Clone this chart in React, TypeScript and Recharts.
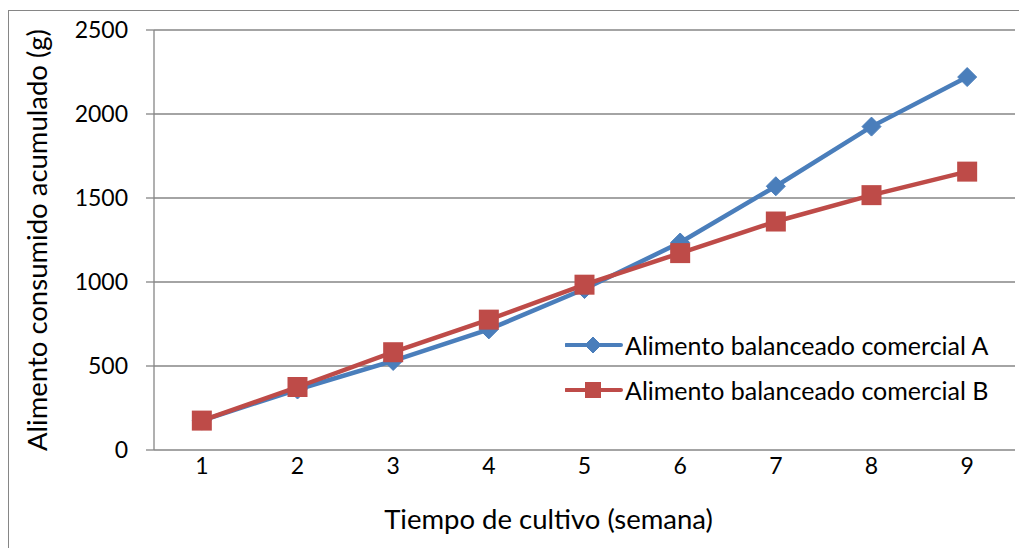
import React from 'react';
import { LineChart, Line, XAxis, YAxis, CartesianGrid, Legend } from 'recharts';

const semanas = [1, 2, 3, 4, 5, 6, 7, 8, 9];
const alimentoA = [175, 360, 530, 718, 958, 1235, 1570, 1925, 2220];
const alimentoB = [175, 375, 582, 776, 984, 1172, 1360, 1517, 1657];
const yTicks = [0, 500, 1000, 1500, 2000, 2500];
const nombreA = 'Alimento balanceado comercial A';
const nombreB = 'Alimento balanceado comercial B';

const AZUL = '#4A7EBB';
const ROJO = '#BE4B48';
const GRIS = '#868686';
const FONT = 'Lato, "Noto Sans", sans-serif';

const data = semanas.map((s, i) => ({ semana: s, a: alimentoA[i], b: alimentoB[i] }));
// tick lines sit between the categories, like in Excel
const bordes = [...semanas.map((s) => s - 0.5), semanas[semanas.length - 1] + 0.5];

const Rombo = ({ cx, cy, r = 9.5, color = AZUL }: any) => {
  if (cx == null || cy == null) return null;
  return (
    <path
      d={`M${cx},${cy - r} L${cx + r},${cy} L${cx},${cy + r} L${cx - r},${cy} Z`}
      fill={color}
      stroke={color}
      strokeWidth={1}
    />
  );
};

const Cuadro = ({ cx, cy, s = 20, color = ROJO }: any) => {
  if (cx == null || cy == null) return null;
  return <rect x={cx - s / 2} y={cy - s / 2} width={s} height={s} fill={color} />;
};

const LeyendaItem = ({ color, texto, cuadro }: { color: string; texto: string; cuadro: boolean }) => (
  <div style={{ display: 'flex', alignItems: 'center', height: 45 }}>
    <svg width={58} height={20} style={{ marginRight: 2 }}>
      <line x1={1} y1={10} x2={56} y2={10} stroke={color} strokeWidth={4} strokeLinecap="round" />
      {cuadro ? <Cuadro cx={28} cy={10} s={16} /> : <Rombo cx={28} cy={10} r={8} />}
    </svg>
    <span style={{ fontSize: 25, color: '#000', whiteSpace: 'nowrap' }}>{texto}</span>
  </div>
);

const renderLeyenda = (props: any) => {
  const { payload = [] } = props;
  return (
    <div>
      {payload.map((p: any) => (
        <LeyendaItem key={p.value} color={p.color} texto={p.value} cuadro={p.dataKey === 'b'} />
      ))}
    </div>
  );
};

export default function App() {
  return (
    <div
      style={{
        marginTop: 2,
        width: 1018,
        height: 537,
        borderTop: `1px solid ${GRIS}`,
        borderLeft: `1px solid ${GRIS}`,
        fontFamily: FONT,
      }}
    >
      <LineChart
        width={1018}
        height={537}
        data={data}
        margin={{ top: 19, right: 12, left: 10, bottom: 8 }}
      >
        <CartesianGrid vertical={false} stroke={GRIS} strokeWidth={1.3} xAxisId="main" />
        <XAxis
          xAxisId="band"
          dataKey="semana"
          type="number"
          domain={[bordes[0], bordes[bordes.length - 1]]}
          ticks={bordes}
          interval={0}
          height={0}
          tick={false}
          tickSize={8}
          stroke={GRIS}
          strokeWidth={1.3}
        />
        <XAxis
          xAxisId="main"
          dataKey="semana"
          type="number"
          domain={[bordes[0], bordes[bordes.length - 1]]}
          ticks={semanas}
          interval={0}
          height={90}
          axisLine={false}
          tickLine={false}
          tickSize={8}
          tickMargin={0}
          tick={{ fill: '#000', fontSize: 23 }}
          label={{
            value: 'Tiempo de cultivo (semana)',
            position: 'insideBottom',
            offset: 11,
            dx: -36,
            fill: '#000',
            fontSize: 27.5,
          }}
        />
        <YAxis
          domain={[0, 2500]}
          ticks={yTicks}
          interval={0}
          width={135}
          tickSize={8}
          tickMargin={18}
          stroke={GRIS}
          strokeWidth={1.3}
          tick={{ fill: '#000', fontSize: 23 }}
          label={{
            value: 'Alimento consumido acumulado (g)',
            angle: -90,
            position: 'insideLeft',
            offset: 18,
            fill: '#000',
            fontSize: 27.5,
            style: { textAnchor: 'middle' },
          }}
        />
        <Legend
          layout="vertical"
          align="center"
          verticalAlign="middle"
          content={renderLeyenda}
          wrapperStyle={{ left: 556, top: 311, width: 'auto' }}
        />
        <Line
          xAxisId="main"
          dataKey="a"
          name={nombreA}
          stroke={AZUL}
          strokeWidth={4.5}
          dot={(p: any) => <Rombo key={`a-${p.index}`} cx={p.cx} cy={p.cy} />}
          isAnimationActive={false}
        />
        <Line
          xAxisId="main"
          dataKey="b"
          name={nombreB}
          stroke={ROJO}
          strokeWidth={4.5}
          dot={(p: any) => <Cuadro key={`b-${p.index}`} cx={p.cx} cy={p.cy} />}
          isAnimationActive={false}
        />
      </LineChart>
    </div>
  );
}
